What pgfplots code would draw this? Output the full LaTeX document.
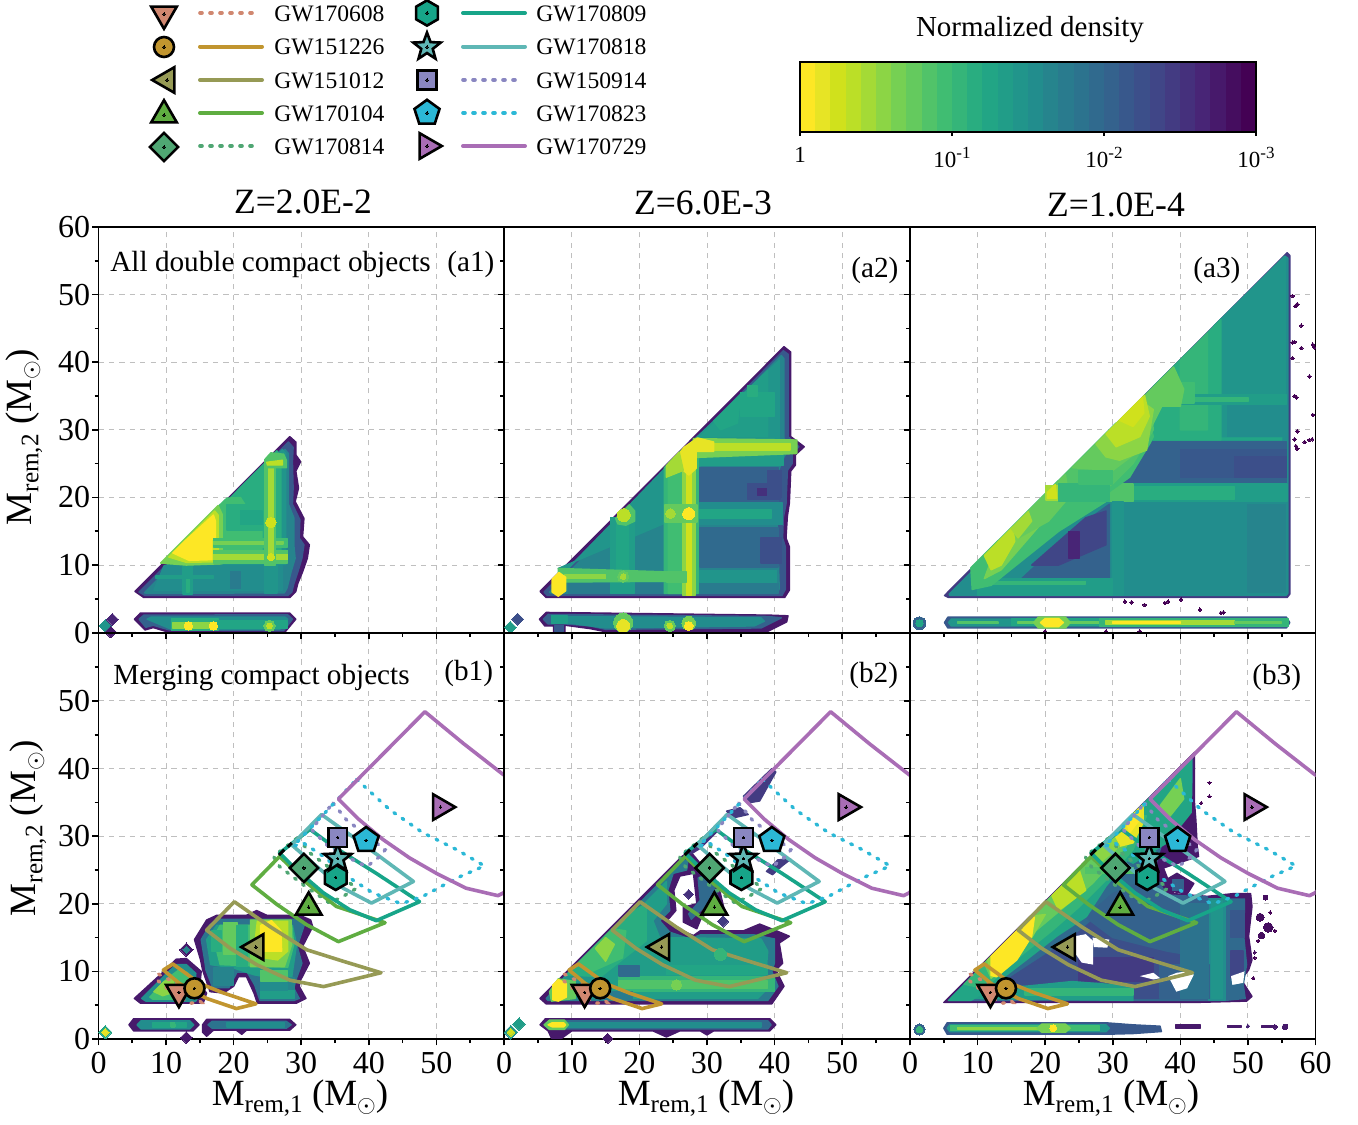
\documentclass[border=0pt]{standalone}
\usepackage{pgfplots}
\pgfplotsset{compat=1.18}
\usepackage{fontspec}
\setmainfont{Liberation Serif}
\usetikzlibrary{plotmarks}
\def\cl#1#2{\definecolor{d#1}{HTML}{#2}}
\cl{0}{FDE725}\cl{1}{E7E425}\cl{2}{D0E11C}\cl{3}{BBDF27}\cl{4}{A4DA36}\cl{5}{8CD545}
\cl{6}{76D053}\cl{7}{64CA5E}\cl{8}{51C369}\cl{9}{40BD72}\cl{10}{35B579}\cl{11}{29AD80}
\cl{12}{22A585}\cl{13}{219D88}\cl{14}{21958B}\cl{15}{228D8D}\cl{16}{26848D}\cl{17}{297B8E}
\cl{18}{2C738E}\cl{19}{306A8E}\cl{20}{34628D}\cl{21}{38588C}\cl{22}{3C4F8A}\cl{23}{404687}
\cl{24}{433B82}\cl{25}{45307C}\cl{26}{482576}\cl{27}{47196B}\cl{28}{450D5F}\cl{29}{440154}
\definecolor{gA}{HTML}{D08770}\definecolor{gB}{HTML}{C1952F}\definecolor{gC}{HTML}{969A55}
\definecolor{gD}{HTML}{5FAD41}\definecolor{gE}{HTML}{4FA673}\definecolor{gF}{HTML}{17A589}
\definecolor{gG}{HTML}{5FB7B5}\definecolor{gH}{HTML}{8A87C1}\definecolor{gI}{HTML}{2BB8D6}
\definecolor{gJ}{HTML}{A96DB5}
\pgfdeclareplotmark{hexa}{\pgfpathmoveto{\pgfqpoint{0pt}{\pgfplotmarksize}}
 \pgfpathlineto{\pgfqpointpolar{150}{\pgfplotmarksize}}\pgfpathlineto{\pgfqpointpolar{210}{\pgfplotmarksize}}
 \pgfpathlineto{\pgfqpointpolar{270}{\pgfplotmarksize}}\pgfpathlineto{\pgfqpointpolar{330}{\pgfplotmarksize}}
 \pgfpathlineto{\pgfqpointpolar{30}{\pgfplotmarksize}}\pgfpathclose\pgfusepathqfillstroke}
\pgfdeclareplotmark{stara}{\pgfpathmoveto{\pgfqpointpolar{90}{\pgfplotmarksize}}
 \pgfpathlineto{\pgfqpointpolar{126}{.42\pgfplotmarksize}}\pgfpathlineto{\pgfqpointpolar{162}{\pgfplotmarksize}}
 \pgfpathlineto{\pgfqpointpolar{198}{.42\pgfplotmarksize}}\pgfpathlineto{\pgfqpointpolar{234}{\pgfplotmarksize}}
 \pgfpathlineto{\pgfqpointpolar{270}{.42\pgfplotmarksize}}\pgfpathlineto{\pgfqpointpolar{306}{\pgfplotmarksize}}
 \pgfpathlineto{\pgfqpointpolar{342}{.42\pgfplotmarksize}}\pgfpathlineto{\pgfqpointpolar{18}{\pgfplotmarksize}}
 \pgfpathlineto{\pgfqpointpolar{54}{.42\pgfplotmarksize}}\pgfpathclose\pgfusepathqfillstroke}
\newcommand{\Pg}[2]{\addplot[fill=#1,draw=#1,line width=.7pt,line join=round,forget plot] coordinates {#2} --cycle;}
\newcommand{\Rc}[5]{\addplot[fill=#1,draw=#1,line width=.7pt,line join=round,forget plot] coordinates {(#2,#3)(#4,#3)(#4,#5)(#2,#5)} --cycle;}
\newcommand{\Sq}[5]{\addplot[fill=#1,draw=none,forget plot] coordinates {(#2,#3)(#4,#3)(#4,#5)(#2,#5)} --cycle;}
\newcommand{\Bl}[4]{\addplot[only marks,mark=*,mark size=#4pt,mark options={fill=#1,draw=#1,line width=0pt},forget plot] coordinates {(#2,#3)};}
\newcommand{\Dm}[4]{\addplot[only marks,mark=square*,mark size=#4pt,mark options={rotate=45,fill=#1,draw=#1,line width=0pt},forget plot] coordinates {(#2,#3)};}
\newcommand{\CS}[2]{\addplot[#1,line width=1.8pt,line join=round,forget plot] coordinates {#2} --cycle;}
\newcommand{\CD}[2]{\addplot[#1,line width=1.7pt,line cap=round,dash pattern=on 1pt off 4pt,forget plot] coordinates {#2} --cycle;}
\newcommand{\GM}[6]{\addplot[only marks,mark=#2,mark size=#3pt,mark options={fill=#1,draw=black,line width=1.3pt,line join=miter,#4},forget plot] coordinates {(#5,#6)};
 \addplot[only marks,mark=*,mark size=.6pt,mark options={fill=black,draw=black,line width=0pt},forget plot] coordinates {(#5,#6)};}
\newcommand{\contours}{%
\CD{gA}{(8.9,9.6)(11,8.5)(13,7.5)(15.2,5.4)(13.5,5.3)(11,6.8)(8.7,8.7)}
\CS{gB}{(11,11.1)(15,8.2)(18.5,6.8)(23.3,5.2)(20.4,4.5)(16,6)(12,8.2)(9.6,10.2)}
\CS{gC}{(20.1,20.3)(25.4,16.6)(30.8,13.2)(36.2,11.5)(41.8,9.8)(33.3,7.75)(28.3,8.7)(23.4,11)(19.5,13.4)(16,16.1)}
\CD{gE}{(29.5,29.8)(31.3,27.5)(38.2,22.3)(36.2,21.1)(34.2,20.1)(30.3,22.8)(26.8,25.5)(25.9,27)}
\CS{gD}{(26.8,27)(30.8,23.1)(35.2,19.6)(42.4,17.2)(35.5,14.4)(30.8,16.9)(26.4,19.9)(22.7,22.8)}
\CS{gF}{(31.3,31)(34.7,28.5)(41.1,24.5)(47.5,20.3)(41.1,17.5)(37.2,19.1)(33.3,21.6)(29.3,25)(26.8,27.5)}
\CS{gG}{(33,33.2)(38.2,29.5)(46.6,23.3)(40.4,20.1)(36.2,22.3)(32.3,25.5)(28.6,28.7)}
\CD{gH}{(34.7,34.9)(36.7,32.4)(42.4,28)(42,27.3)(39.7,25.5)(37,26.8)(34,28.5)(31.5,31)}
\CD{gI}{(38.2,38.4)(43.1,33.9)(48,30.5)(53,28)(57.1,25.6)(53,23.8)(48,21.1)(44.8,20)(40.6,21.6)(37.2,23.8)(33.3,27)(30.3,29)(28.8,28.5)}
\CS{gJ}{(35.5,35.5)(48.3,48.4)(54,43.7)(59.9,39.1)(72,33)(59.9,21.6)(59.1,21.2)(54.4,22.3)(50,24.5)(46,26.8)(42.1,29.5)(38.5,32.5)}
\addplot[black,line width=1.5pt,forget plot] coordinates {(26.7,27.2)(27.5,28)};
\addplot[black,line width=1.5pt,forget plot] coordinates {(28,28.4)(28.6,29)};
\GM{gA}{triangle*}{7.4}{rotate=180}{11.9}{6.9}
\GM{gB}{*}{5}{}{14.2}{7.5}
\GM{gC}{triangle*}{7.4}{rotate=90}{23.3}{13.6}
\GM{gD}{triangle*}{7.4}{}{31.1}{19.5}
\GM{gE}{square*}{5}{rotate=45}{30.4}{25.3}
\GM{gF}{hexa}{6.3}{}{35.1}{23.9}
\GM{gG}{stara}{7.2}{}{35.4}{26.7}
\GM{gH}{square*}{4.7}{}{35.4}{29.8}
\GM{gI}{pentagon*}{6.6}{}{39.6}{29.4}
\GM{gJ}{triangle*}{7.4}{rotate=-90}{50.6}{34.3}
}
\pgfplotsset{panel/.style={scale only axis,width=202.75pt,height=202.85pt,anchor=south west,
 xmin=0,xmax=60,ymin=0,ymax=60,xtick={0,10,...,60},ytick={0,10,...,60},
 minor x tick num=1,minor y tick num=1,tick align=outside,xtick pos=bottom,ytick pos=left,
 grid=major,major grid style={dash pattern=on 2.6pt off 2.6pt,black!25,line width=.45pt},
 axis line style={line width=.9pt},tick style={black,line width=.8pt},
 major tick length=3.2pt,minor tick length=2pt,
 xticklabels={},yticklabels={},
 tick label style={font=\fontsize{16}{16}\selectfont},
 /pgf/number format/assume math mode=true,
 xticklabel style={yshift=.2pt},yticklabel style={xshift=2.6pt}}}
\newcommand{\xl}{M\raisebox{-.4ex}{\fontsize{12.6}{12}\selectfont rem,1} (M\raisebox{-.4ex}{\fontsize{12.6}{12}\selectfont$\odot$})}
\newcommand{\yl}{M\raisebox{-.4ex}{\fontsize{12.6}{12}\selectfont rem,2} (M\raisebox{-.4ex}{\fontsize{12.6}{12}\selectfont$\odot$})}
\begin{document}
\begin{tikzpicture}
\useasboundingbox (0,0) rectangle (679pt,562pt);
% ---------- a1
\begin{axis}[panel,at={(49.25pt,245.65pt)},yticklabels={0,10,20,30,40,50,60}]
\Pg{d27}{(5.4,6.1)(28.3,29)(29.2,28.2)(29.2,26.3)(29.9,25.3)(29.2,23.9)(29.6,21.4)(29.1,19.4)(30.4,16.9)(30.2,14.2)(31.2,13)(30.9,11)(30.2,9)(29.5,7.3)(29.2,6.1)(28.3,5.2)(6.7,5.2)}
\Pg{d21}{(6,6)(28.1,28.2)(28.8,27.4)(28.7,25.3)(28.8,21.4)(28.7,19)(29.8,16.7)(29.7,14)(30.4,13)(30.1,11)(29.5,9)(28.9,7.2)(28.6,6)(28,5.5)(6.9,5.5)}
\Pg{d16}{(6.8,5.9)(27.6,27.1)(28.1,26.5)(28.1,21)(28.1,19)(28.9,17)(28.9,13)(29.1,11)(28.5,9)(27.9,6.6)(27.5,5.9)(7.2,5.8)}
\Pg{d15}{(8.2,6.3)(9.7,9.9)(27.2,9.9)(27.2,6.3)}
\Rc{d13}{12.5}{5.7}{13.9}{10}\Rc{d11}{13}{6}{13.4}{8}\Rc{d14}{24.6}{5.9}{26.4}{10}\Rc{d13}{8.5}{8}{17}{8.4}\Rc{d17}{19.5}{6.5}{21}{9}
\Pg{d14}{(10.2,10.1)(27.2,27.1)(27.7,26.5)(27.7,10.1)}
\Pg{d11}{(10,10.4)(26.4,26.9)(27,25.8)(27,10.4)}
\Pg{d9}{(17,10.3)(17,18)(19,19.9)(21,20)(24.2,15)(24.2,10.3)}
\Rc{d11}{19}{15.2}{24.3}{19}\Rc{d12}{21}{16}{24.2}{18}
\Pg{d6}{(9.2,10.3)(17.7,18.8)(18.3,17.5)(18.3,10.2)(13,10)}
\Pg{d3}{(10.4,11.2)(17.2,18)(17.7,17.4)(17.7,10.5)(13,10.4)}
\Pg{d0}{(11,11.8)(12.6,13.4)(17,17.4)(17.3,16.5)(17.3,14)(16.8,13.8)(16.8,10.8)(13.4,10.7)}
\Rc{d8}{17}{10.3}{28}{12.2}\Rc{d4}{17}{10.8}{28}{11.6}\Rc{d9}{17}{12.7}{28}{13.9}\Rc{d6}{17}{13.1}{27.3}{13.5}
\Rc{d8}{24.6}{10}{26.2}{25.5}\Rc{d4}{25.2}{11}{25.8}{25}
\Pg{d8}{(24.6,25.6)(25.5,26.6)(27.4,26.4)(27.8,25.5)(27.8,24.4)(24.8,24.4)}
\Pg{d3}{(24.9,25.2)(27.2,25.5)(27.2,24.8)(25,24.8)}
\Bl{d2}{25.5}{16.3}{2.6}\Bl{d2}{25.5}{11.2}{1.8}
% strip
\Pg{d27}{(5.3,2)(6.2,2.9)(28.3,2.9)(29.2,2)(27.6,.1)(10.3,.1)(8.1,.75)(6.9,.4)}
\Pg{d20}{(6,2)(6.7,2.6)(28,2.65)(28.7,2)(27.4,.3)(10.5,.4)(8.1,1.1)(7,.8)}
\Pg{d15}{(7.2,2)(7.8,2.3)(27.6,2.3)(28,2)(26.8,.5)(10.8,.5)}
\Rc{d11}{10.8}{.3}{17.7}{2.1}\Rc{d5}{11}{.6}{17.4}{1.5}\Rc{d12}{17.7}{.7}{28}{1.8}\Bl{d0}{13.3}{1}{2.1}\Bl{d0}{17}{1}{2.1}\Bl{d7}{25.3}{1}{2.8}\Bl{d3}{25.3}{1}{1.4}
\Dm{d14}{1}{1}{2.2}\Dm{d26}{2.05}{1.95}{2.1}\Dm{d27}{1.8}{.1}{2}
\end{axis}
% ---------- a2
\begin{axis}[panel,at={(252.1pt,245.65pt)}]
\Pg{d27}{(5.3,6.1)(41.4,42.3)(42.4,41.5)(42.4,29)(44.4,27.5)(43.1,26.3)(43.1,24.8)(42.4,23.9)(42.2,19.2)(41.9,17.2)(41.7,14)(42.2,12.7)(42.2,6.3)(41.5,5.2)(6.2,5.2)}
\Pg{d21}{(5.9,6)(41.3,41.7)(42,41.2)(42,29)(43.6,27.5)(42.6,26.5)(42.6,25)(41.9,24)(41.7,19)(41.3,17)(41.2,14)(41.6,12.7)(41.6,6.4)(41.1,5.5)(6.4,5.5)}
\Pg{d16}{(6.7,6)(41,41)(41.4,40.5)(41.4,28.7)(42.4,27.5)(41.4,26)(40.6,24)(40.4,16)(40.7,6.5)(40.4,5.8)(7,5.8)}
\Pg{d14}{(9,9)(26,26.6)(40.7,40.3)(40.7,28)(29,25)(28,18)(8,9.5)}
\Pg{d13}{(28.5,28.5)(36,35.9)(39,38.8)(39,29)(29,29)}
\Pg{d12}{(31,31.3)(35,35.3)(34.5,31)(32,30)}\Rc{d12}{35}{32}{40}{35.5}\Rc{d11}{36}{36.5}{37.5}{35}
\Rc{d13}{29}{24.7}{41.3}{27}
\Rc{d20}{29}{19.3}{40.5}{24.4}\Rc{d22}{36}{19.8}{40.8}{22}\Rc{d25}{37.5}{20.3}{39}{21.3}\Rc{d22}{39}{20}{41}{24}\Rc{d19}{29}{9.7}{40.5}{15.6}\Rc{d22}{38}{10.3}{41}{14}\Rc{d17}{29}{5.8}{40.5}{7.3}
\Rc{d15}{29}{16}{41.2}{19.2}\Rc{d12}{29}{16.9}{39.5}{18.2}\Rc{d14}{29}{7.4}{40.3}{9.2}
\Rc{d17}{9.5}{5.8}{24}{7.3}
\Rc{d13}{15.7}{5.8}{19.3}{17}\Rc{d12}{16.7}{9}{18.3}{16}
\Pg{d10}{(23.7,5.8)(23.7,24.4)(26.2,26.9)(28.7,26)(28.7,5.8)}
\Pg{d9}{(24.3,5.8)(24.3,25)(26.5,27.2)(27.8,26)(27.8,5.8)}
\Rc{d5}{26.4}{5.6}{28.3}{25}\Rc{d2}{27}{5.5}{27.7}{25}
\Pg{d6}{(28,25.9)(28,28.7)(43.3,28.5)(43.3,26.5)}
\Rc{d3}{28}{27}{42.3}{28}
\Pg{d1}{(25.7,26.2)(26.6,27.4)(28.6,28.8)(31,28.2)(31,26.8)(28.4,26.8)(28.4,24.3)(27.3,23.3)(26.2,24.3)}
\Pg{d4}{(24,24.7)(25.9,26.7)(26.5,24)(24,23)}
\Rc{d7}{23.8}{16.4}{28.5}{18.9}\Bl{d4}{24.6}{17.6}{2.4}\Bl{d0}{27.3}{17.6}{3}
\Pg{d8}{(8,8.8)(8,9.5)(24,9)(24,7.6)(9,7.5)}\Rc{d5}{9}{8}{15}{8.6}\Rc{d8}{24}{7.5}{27}{9}
\Pg{d8}{(16.5,16.9)(18.5,18.9)(19.3,18)(19.3,16.5)(18,15.9)(16.8,16.1)}
\Bl{d3}{17.7}{17.4}{3.2}\Bl{d7}{17.6}{8.3}{2.8}\Bl{d4}{17.6}{8.3}{1.4}
\Pg{d0}{(7.1,7.9)(8.1,8.9)(9.1,8.2)(9.1,6.2)(8,5.4)(7.1,6)}
% strip
\Pg{d27}{(5.2,2)(6.2,3)(39.3,2.6)(42,2.5)(41.8,1.6)(38.8,.1)(15.2,.1)(12.7,.6)(9,1.1)(9,.1)(7.3,.1)(7.3,1)(6,1)}
\Pg{d20}{(5.8,2)(6.5,2.7)(39,2.4)(41,2.2)(38,.7)(15,.5)(12.7,1)(9,1.3)(6.5,1.3)}
\Pg{d15}{(7,2)(7.8,2.4)(38,2.2)(38.5,1.7)(37,1)(15,.7)(9,1.5)}
\Rc{d21}{7.5}{.2}{8.8}{1.1}\Rc{d13}{7}{1.4}{9.3}{2.5}
\Bl{d7}{17.6}{1.5}{4.8}\Bl{d1}{17.6}{1}{3.2}
\Bl{d7}{24.5}{1}{2.8}\Bl{d3}{24.5}{1}{1.4}\Bl{d6}{27.3}{1.4}{3.4}\Bl{d0}{27.3}{1}{2.2}
\Dm{d13}{.9}{.8}{2.1}\Dm{d22}{2}{2}{2.1}
\end{axis}
% ---------- a3
\begin{axis}[panel,at={(455pt,245.65pt)}]
\Pg{d24}{(5.1,5.5)(55.8,56.2)(56.2,55.8)(56.2,5.7)(55.8,5.2)(5.7,5.2)}
\Pg{d15}{(5.8,5.7)(55.6,55.6)(55.9,55.4)(55.9,5.8)(55.6,5.5)(5.9,5.5)}
\Rc{d16}{50}{6}{55.6}{19}
\Pg{d12}{(29,29.4)(55.4,55.6)(55.4,47)(55,28.5)(29,28.5)}
\Pg{d14}{(45,45.4)(55.5,55.7)(55.5,29)(46,29)}\Rc{d15}{47}{29}{55.5}{34}
\Pg{d11}{(36,36.4)(46,46.3)(46,28.5)(36,28.5)}
\Pg{d10}{(40,40.3)(44,44.3)(44,30)(40,30)}
\Rc{d13}{35}{33.8}{55.7}{35.2}\Rc{d10}{35}{34.2}{50}{34.8}
\Rc{d20}{30}{22}{55.7}{28.3}\Rc{d21}{40}{23}{55.7}{27}\Rc{d22}{48}{23}{55.7}{26}
\Rc{d13}{29}{19.4}{55.8}{22}\Rc{d11}{33}{19.8}{48}{21.6}\Rc{d8}{29.5}{19.4}{33}{22}
\Rc{d14}{30}{5.6}{31.5}{19.4}
\Pg{d20}{(16,7.5)(24,15)(29.5,19)(29.5,8)(22,8)}
\Pg{d23}{(18,10)(26,17)(29,18)(29,13)(22,10)}\Rc{d26}{23.5}{11}{25}{15}
\Rc{d13}{10}{5.6}{30}{8}\Rc{d10}{11}{7.2}{26}{7.6}
\Pg{d9}{(9.2,6.4)(9,9.6)(30.5,31)(35.5,31)(36,29)(35.5,28)(32.5,23)(29,20.5)(29,19.4)(22,15)(12,7)}
\Pg{d8}{(22,22.4)(33,33.4)(35.5,35.2)(36,30)(33,25)(30,22)(27,20.2)}
\Pg{d7}{(24,24.4)(36,36.3)(38,35)(36,31)(34,27)(30,24)}
\Rc{d9}{38}{34}{42}{37}\Pg{d7}{(36,36.3)(39,39.3)(40.5,36)(40,33.5)(37,33.5)}
\Pg{d5}{(27.5,27.9)(34,34.4)(36,33)(35,27)(31,25.5)(29,26)}
\Pg{d3}{(29,29.4)(34.7,35.1)(35.4,32)(34,29)(30.5,27.5)}
\Pg{d2}{(31,31.4)(34.4,34.8)(34.6,32.5)(33,30.5)}
\Pg{d6}{(13,13.4)(20.2,20.6)(21,18)(18,14.5)(13.5,9.3)(11,8)}
\Pg{d7}{(18,18.4)(23,23.4)(23.5,20)(20.5,16.5)(16,14)}
\Pg{d3}{(11,11.4)(15.2,15.6)(15.5,13.5)(13.5,10)(12,9.3)}
\Pg{d4}{(15,15.4)(17.5,17.9)(18,16.5)(16,14)}
\Rc{d4}{20.1}{19.6}{21.9}{21.8}\Pg{d2}{(20.3,19.9)(20.3,20.7)(21.5,21.9)(21.7,19.9)}
\Rc{d10}{22}{19.5}{29.5}{22}\Rc{d9}{25}{22}{30}{24}
% strip
\Pg{d21}{(5.1,1.5)(5.6,2.3)(55.7,2.3)(56.2,1.5)(55.7,.7)(5.6,.7)}
\Pg{d14}{(5.7,1.5)(6.1,2)(55.5,2)(55.9,1.5)(55.5,1)(6.1,1)}
\Rc{d8}{7}{1.4}{13}{1.6}\Rc{d12}{15}{1.1}{30}{2}\Rc{d7}{16}{1.4}{30}{1.6}
\Rc{d10}{28}{1}{56}{2}\Rc{d4}{29}{1.2}{48}{1.8}\Rc{d0}{30}{1.4}{40}{1.6}\Rc{d7}{48}{1.4}{55}{1.6}
\Pg{d6}{(18.3,1.5)(19,2.3)(23,2.3)(23.7,1.5)(23,.7)(19,.7)}\Pg{d0}{(19.3,1.5)(20,2.1)(22,2.1)(22.7,1.5)(22,.9)(20,.9)}
\Bl{d20}{1.4}{1.4}{3.2}\Bl{d12}{1.4}{1.4}{1.8}
\addplot[only marks,mark=*,mark size=.9pt,mark options={fill=d29,draw=d29,line width=0pt},forget plot] coordinates {(56.6,49.8)(57,48.3)(57.3,48.6)(56.6,42.9)(56.9,43)(57.9,42.1)(59.6,42.6)(59.8,42.2)(56.6,40.6)(57.9,45.4)(59.1,37.9)(56.9,35)(57.2,34.8)(59.6,32.2)(57.3,29.8)(57.1,27.6)(57.3,27.2)(59.1,28.5)(59.5,28.6)(58.4,28.2)(56.9,28.6)(31.8,4.6)(32.8,4.5)(34.7,4.1)(37.7,4.4)(38.2,4.6)(40.1,4.9)(42.9,3.4)(46,2.9)(46.4,3)(20,.2)(29,.2)(34,.2)};
\end{axis}
% ---------- b1
\begin{axis}[panel,at={(49.25pt,42.5pt)},yticklabels={0,10,20,30,40,50,},xticklabels={0,10,20,30,40,50,}]
\Pg{d27}{(5.3,6)(9.9,10.2)(11.5,11.8)(13,11.9)(15.2,10)(15,8)(16,6.8)(15.5,5.3)(6.2,5.3)}
\Pg{d15}{(6.4,6)(10,9.6)(11.5,11)(13,11)(14.4,9.7)(14.3,7.5)(14.9,6.6)(14.4,5.6)(7,5.6)}
\Pg{d9}{(7.6,6.2)(10,8.8)(12,10.3)(13.2,9.8)(13.6,7.5)(12,5.9)(8,5.9)}
\Pg{d5}{(8.2,7)(9.7,8.5)(11,9)(11.4,7)(9.5,6.4)}
\Dm{d27}{13}{13.2}{2.4}\Dm{d16}{13}{13.2}{1.2}\Dm{d27}{13}{.2}{2.1}
\Pg{d27}{(14.2,14.7)(16,17.6)(17.5,18.3)(21.9,18.3)(23.4,19)(24.9,18.3)(29.8,18.3)(31.4,17.6)(31.7,16.6)(30.2,13.7)(31.2,11.2)(29.9,8.7)(29.7,7.8)(30.7,6)(29.3,5.3)(23.5,5.3)(23,6.8)(21.9,9.2)(20.7,9.2)(20,7.8)(18.5,6.8)(16.5,7)(15.4,10.2)(15.1,11.7)}
\Pg{d18}{(15.2,14.7)(16.5,16.9)(17.8,17.7)(29.3,17.7)(30.5,17)(29.4,13.7)(30.1,11.2)(29.2,8.7)(28.9,7.5)(29.7,6)(28.9,5.7)(23.9,5.7)(23.1,8)(22,9.9)(20.5,9.9)(19.3,7.6)(16.9,7.6)(15.9,10.2)(15.7,11.7)}
\Pg{d13}{(16,14.7)(17.5,16.8)(28.7,16.8)(29.3,14)(28.5,8.5)(23,9.5)(20,10.5)(16.6,11)}
\Rc{d16}{17}{8}{20}{10.5}\Rc{d16}{24}{6}{29}{9}\Rc{d13}{24}{6}{29}{7.1}\Rc{d15}{24}{7.2}{28}{8.3}
\Pg{d9}{(17,15)(18,16.8)(28.6,16.8)(28.9,14)(28,10.6)(18,11)}
\Rc{d7}{18.5}{12.5}{20.5}{17.2}\Rc{d11}{20.5}{10.7}{22}{16.8}\Rc{d11}{16.7}{13}{18.2}{16}
\Pg{d6}{(22.5,10.7)(22.5,17.6)(28.5,17.6)(28.6,14)(27.5,10.7)}
\Pg{d3}{(23,13)(23.5,17.4)(28,17.4)(28,13)(26.5,11.7)(24.5,12)}
\Pg{d0}{(23.9,13)(24,16.8)(25.6,17.5)(27,16)(27.1,13)}
\Rc{d8}{24}{8.6}{28}{10.1}
% strips
\Pg{d27}{(4.5,2.1)(5.2,3)(14,3)(14.9,2.1)(14,1.2)(5.2,1.2)}
\Pg{d15}{(5.7,2.1)(6.3,2.7)(13.5,2.7)(14.1,2.1)(13.5,1.5)(6.3,1.5)}
\Rc{d12}{8}{1.8}{13}{2.4}\Bl{d10}{11}{2.1}{1.4}
\Pg{d27}{(15.4,2.1)(16,2.9)(28.3,2.9)(29.2,2.1)(28.3,1.3)(21.9,1.3)(21.2,.7)(20.4,1.3)(17,1.3)(16,.4)(15.4,1)}
\Pg{d18}{(16.2,2.1)(16.8,2.6)(27.8,2.6)(28.5,2.1)(27.8,1.6)(16.8,1.6)}
\Rc{d15}{19}{1.8}{27.5}{2.4}
\Dm{d12}{1}{1}{2.3}\Dm{d1}{1}{1}{1.4}
\contours
\end{axis}
% ---------- b2
\begin{axis}[panel,at={(252.1pt,42.5pt)},xticklabels={0,10,20,30,40,50,}]
\Pg{d27}{(5.3,6)(26.3,27)(27.5,27.8)(29,26)(28.5,24.6)(26,24.1)(25.1,22)(25.4,19)(24.1,17.5)(25.5,16.4)(28,15.3)(29,16)(35.4,16)(37.8,17)(40.3,16)(42.2,15.2)(40.7,14.2)(41.2,11.2)(40.2,10.2)(41.4,7.8)(39.6,5.2)(6.2,5.2)}
\Pg{d17}{(6.2,6)(26,26.2)(27.2,26.5)(27,25)(25,24.5)(24.2,22)(24.5,19)(23,17.5)(24.5,15.8)(27.5,14.8)(29,15.4)(37,15.4)(40,14.8)(40,11.3)(39.6,10)(40.5,7.8)(39,5.7)(6.5,5.7)}
\Pg{d13}{(7,6)(24,23.3)(24,20)(22,17.5)(23,15)(38,14.8)(39,13)(38.5,7)(37.5,6)}
\Pg{d11}{(9,9.3)(18,18.3)(21,20)(21,14.5)(14,9)}
\Pg{d9}{(11,11.3)(16,16.3)(18,16)(17.5,12)(13,10)}
\Pg{d5}{(13.5,13.4)(15,15)(16.3,14)(15,11.5)}
\Rc{d10}{17}{7}{40}{9.2}\Rc{d8}{17}{7.5}{39}{8.6}\Bl{d6}{25.5}{8}{2.6}
\Rc{d12}{24}{9.5}{39}{11}\Rc{d13}{24}{11}{38}{14}\Bl{d10}{32}{12.5}{3}\Rc{d17}{14}{5.7}{19}{7}\Rc{d19}{17}{9.3}{20}{10.8}
\Pg{d14}{(7,6)(8,8)(9,9.3)(14,9)(14,6)}
\Pg{d7}{(6.7,7)(8,8.9)(10.5,8.5)(10.5,6)(7,5.6)}
\Pg{d0}{(7.2,5.8)(7.2,8)(8,8.8)(9.2,8.2)(9.2,6.2)(8,5.6)}
\Pg{d27}{(28,24.5)(30.5,25.5)(32,21.5)(32.6,19)(30,18.5)(29.2,18)(28.5,16.3)(26.5,17.3)(26.5,19.5)(28.5,20)}
\Pg{d19}{(28.7,23.8)(30.2,24.6)(31.5,21.3)(31.8,19.6)(29.6,19.5)(28.5,18.5)(27.7,17.7)(27.3,18.5)(29,20.5)}
\Dm{d25}{27.3}{21.4}{1.7}\Dm{d24}{32.4}{17.4}{2}
\Pg{d25}{(26.8,27.5)(29,29.3)(31,31.3)(31.6,30.8)(29,28.2)(27.7,27.4)}
\Pg{d24}{(32.9,33.7)(34.9,34.2)(36.1,33.2)(33.9,32.7)}
\Pg{d24}{(35.4,35.9)(39.6,40)(40.2,39.5)(37.8,35.2)(36,34.9)}
\Pg{d24}{(38.8,24.8)(40.5,26.5)(42.4,26.6)(41,25.5)(39.7,24.3)}
% strip
\Pg{d27}{(5.3,2.1)(6.1,3)(39.3,3)(40.2,2.1)(39.3,1.2)(31,1.2)(30,.6)(29,1.2)(26,1.2)(24,.3)(22,1.2)(10,1.2)(8.5,.1)(7,.1)(6.5,1.2)}
\Pg{d19}{(6,2.1)(6.7,2.7)(39,2.7)(39.5,2.1)(39,1.5)(7,1.5)}
\Rc{d15}{8}{1.8}{38}{2.4}\Pg{d7}{(5.9,2.1)(6.7,2.8)(8.9,2.8)(9.5,2.1)(8.9,1.4)(6.7,1.4)}
\Pg{d0}{(6.5,2.1)(7.1,2.4)(8.8,2.4)(9.1,2.1)(8.8,1.8)(7.1,1.8)}
\Dm{d27}{15.3}{.1}{1.8}
\Dm{d14}{1}{1}{2.4}\Dm{d2}{1}{1}{1.4}\Dm{d13}{2.2}{2.2}{2.2}
\contours
\end{axis}
% ---------- b3
\begin{axis}[panel,at={(455pt,42.5pt)},xticklabels={0,10,20,30,40,50,60}]
\Pg{d27}{(5,5.4)(42.1,42.4)(42.1,34.9)(42.3,32.4)(42.5,28.5)(42.7,27)(37.5,25.3)(39,21.5)(44,21.1)(47.8,21.5)(50.4,21.5)(50.6,19.6)(50.1,15.2)(50.6,11.7)(50.1,10.2)(49,8.8)(50.6,6.3)(49.8,5.6)(41.9,5.4)}
\Pg{d19}{(5.7,5.7)(41.8,41.8)(41.7,36)(40.3,33)(38,31)(37,28)(36,24.5)(38,21.3)(44,20.7)(49.5,20.7)(49.4,15)(49.8,11)(49.3,8)(49.6,6)(46.5,5.7)}
\Pg{d12}{(28,28.4)(41.6,41.7)(41.6,33.5)(38,29)(33,26)}
\Pg{d6}{(37,34.5)(40,38.5)(40.5,35.5)(38.5,33)}
\Rc{d15}{44.2}{5.7}{46.6}{20.7}\Rc{d14}{44.7}{6}{46.2}{20.5}\Rc{d23}{47.5}{9}{49.3}{13}\Rc{d21}{47.5}{15}{49.5}{19}
\Pg{d22}{(14,8.5)(24,15)(30,20)(37,21)(44,21)(44,6)(30,6)(20,7.5)}
\Pg{d20}{(26,18)(30,21.5)(36,24)(38,21.3)(44,21)(44,12)(38,13)(30,15)}
\Rc{d20}{37}{6}{44.3}{11}\Rc{d18}{40}{6}{44.2}{20}\Rc{d24}{25}{8.5}{36}{12}
\Pg{d13}{(9,6)(9,7)(24,8.5)(33,7.8)(33,5.7)}\Rc{d10}{17}{6.5}{33}{7.5}
\Pg{d12}{(5.7,5.7)(30,30.1)(37,34)(36.5,31.5)(33,27.5)(29,22.6)(26.1,18.1)(21.7,15.2)(17.2,11.7)(10.8,6.8)(9,5.7)}
\Pg{d10}{(8,8.1)(26,26.2)(33,33.2)(35,33)(33,28)(29,23.5)(25,19.5)(21,16)(16,12)(11,7.5)}
\Pg{d7}{(11,11.2)(32,32.2)(34,33)(32,28.5)(27,23)(21,18)(15,13)(12,9)}
\Pg{d5}{(11.5,11.7)(18,18.2)(20,18.4)(18,15)(14,10.5)(12,9)}
\Pg{d0}{(12,12.2)(17.2,17.4)(18.4,18)(18,15.2)(15.8,11.7)(12.8,9.2)(12,9.4)}
\Pg{d3}{(21,21.2)(25,25.1)(26,22)(22,19)}
\Pg{d1}{(30,30.2)(34.5,34.7)(34.5,32)(33,29)(31,28.5)}
\Pg{d0}{(32,32.3)(34,34.2)(34,32.5)(32.5,30.5)}
\Pg{d5}{(27,27.2)(30,30.2)(31,28.5)(28,26)}
\Rc{d8}{26}{24.5}{33}{25.4}
% holes
\addplot[fill=white,draw=none,forget plot] coordinates {(24.4,15.2)(26,15.5)(27.1,14.5)(27.1,11)(25.4,11.3)(24.2,13)} --cycle;
\addplot[fill=white,draw=none,forget plot] coordinates {(27,15)(29.5,14.7)(29.2,13.5)(27.2,13.6)} --cycle;
\addplot[fill=white,draw=none,forget plot] coordinates {(39.4,7)(41,7.5)(42,9.5)(41,10)(39.5,9.8)(38.2,9.3)} --cycle;
\addplot[fill=white,draw=none,forget plot] coordinates {(34,9.3)(36,9.8)(37,9)(36,8.8)} --cycle;
\addplot[fill=white,draw=none,forget plot] coordinates {(47.5,9.3)(49.5,10)(49.3,8.3)(47.7,8)} --cycle;
\Pg{d27}{(38,22)(41,21.4)(42,23)(39.5,24.5)(37.8,23.5)}
\Rc{d20}{38.8}{22}{40.5}{23.5}
\Bl{d28}{51.8}{18}{2}\Bl{d28}{53}{16.5}{2.4}\Bl{d28}{52}{15.3}{1.6}\Bl{d28}{52.6}{20.9}{1.2}\Bl{white}{52}{17}{1}\Bl{d28}{51}{12.8}{.8}
\addplot[only marks,mark=*,mark size=.8pt,mark options={fill=d29,draw=d29,line width=0pt},forget plot] coordinates {(44.3,37.9)(44.3,35.9)(43.1,34.9)(51,12)(51.5,14.5)(54,16)(53.3,18.7)(50.8,9)};
% strip
\Pg{d21}{(5,1.6)(5.5,2.4)(29,2.4)(33,2.1)(37,1.9)(37.2,1.1)(33,.8)(29,.7)(5.5,.7)}
\Pg{d14}{(5.5,1.6)(5.9,2.1)(29,2.1)(29.5,1.6)(29,1.1)(5.9,1.1)}
\Rc{d9}{6}{1.3}{28}{1.9}\Rc{d5}{7}{1.5}{23}{1.7}\Pg{d6}{(18.8,1.6)(19.5,2.2)(23,2.2)(23.7,1.6)(23,1)(19.5,1)}\Bl{d0}{21.2}{1.6}{1.7}
\Rc{d27}{39.3}{1.6}{43}{2.1}\Rc{d27}{47}{1.7}{49}{2}\Bl{d26}{50}{1.9}{.9}\Rc{d27}{52}{1.7}{54}{1.9}\Bl{d27}{54}{1.8}{1.1}\Bl{d27}{55.5}{1.8}{1.4}
\Bl{d20}{1.4}{1.4}{2.8}\Bl{d10}{1.4}{1.4}{1.6}
\contours
\end{axis}
% ---------- colour bar
\begin{axis}[scale only axis,width=228pt,height=34.75pt,anchor=south west,at={(400pt,496pt)},
 xmin=0,xmax=30,ymin=0,ymax=1,xtick={0,10,20,30},xticklabels={1,10\raisebox{.42em}{\fontsize{8.5}{8.5}\selectfont -1},10\raisebox{.42em}{\fontsize{8.5}{8.5}\selectfont -2},10\raisebox{.42em}{\fontsize{8.5}{8.5}\selectfont -3}},ytick=\empty,
 tick align=outside,xtick pos=bottom,axis line style={line width=1pt},tick style={black,line width=.6pt},major tick length=2pt,
 tick label style={font=\fontsize{11.5}{11.5}\selectfont},xticklabel style={yshift=-2pt},axis on top]
\Sq{d0}{0}{0}{1}{1}\Sq{d1}{1}{0}{2}{1}\Sq{d2}{2}{0}{3}{1}\Sq{d3}{3}{0}{4}{1}\Sq{d4}{4}{0}{5}{1}\Sq{d5}{5}{0}{6}{1}
\Sq{d6}{6}{0}{7}{1}\Sq{d7}{7}{0}{8}{1}\Sq{d8}{8}{0}{9}{1}\Sq{d9}{9}{0}{10}{1}\Sq{d10}{10}{0}{11}{1}\Sq{d11}{11}{0}{12}{1}
\Sq{d12}{12}{0}{13}{1}\Sq{d13}{13}{0}{14}{1}\Sq{d14}{14}{0}{15}{1}\Sq{d15}{15}{0}{16}{1}\Sq{d16}{16}{0}{17}{1}\Sq{d17}{17}{0}{18}{1}
\Sq{d18}{18}{0}{19}{1}\Sq{d19}{19}{0}{20}{1}\Sq{d20}{20}{0}{21}{1}\Sq{d21}{21}{0}{22}{1}\Sq{d22}{22}{0}{23}{1}\Sq{d23}{23}{0}{24}{1}
\Sq{d24}{24}{0}{25}{1}\Sq{d25}{25}{0}{26}{1}\Sq{d26}{26}{0}{27}{1}\Sq{d27}{27}{0}{28}{1}\Sq{d28}{28}{0}{29}{1}\Sq{d29}{29}{0}{30}{1}
\end{axis}
% ---------- overlay: legend and all text (pixel coordinates)
\begin{axis}[scale only axis,width=679pt,height=562pt,anchor=south west,at={(0pt,0pt)},hide axis,
 xmin=0,xmax=1358,ymin=0,ymax=1124,y dir=reverse,clip=false]
\GM{gA}{triangle*}{7.4}{rotate=180}{164}{14}
\GM{gB}{*}{5}{}{164}{47}
\GM{gC}{triangle*}{7.4}{rotate=90}{167}{80}
\GM{gD}{triangle*}{7.4}{}{164}{115}
\GM{gE}{square*}{5}{rotate=45}{164}{147}
\GM{gF}{hexa}{6.3}{}{427}{13}
\GM{gG}{stara}{7.2}{}{427}{47}
\GM{gH}{square*}{4.7}{}{427}{80}
\GM{gI}{pentagon*}{6.6}{}{427}{113}
\GM{gJ}{triangle*}{7.4}{rotate=-90}{427}{146}
\addplot[gA,line width=1.8pt,line cap=round,dash pattern=on 1pt off 4pt,forget plot] coordinates {(200,13)(259,13)};
\addplot[gB,line width=2pt,line cap=round,forget plot] coordinates {(200,46.5)(262,46.5)};
\addplot[gC,line width=2pt,line cap=round,forget plot] coordinates {(200,80)(262,80)};
\addplot[gD,line width=2pt,line cap=round,forget plot] coordinates {(200,113)(262,113)};
\addplot[gE,line width=1.8pt,line cap=round,dash pattern=on 1pt off 4pt,forget plot] coordinates {(200,146)(259,146)};
\addplot[gF,line width=2pt,line cap=round,forget plot] coordinates {(463,13)(525,13)};
\addplot[gG,line width=2pt,line cap=round,forget plot] coordinates {(463,46.5)(525,46.5)};
\addplot[gH,line width=1.8pt,line cap=round,dash pattern=on 1pt off 4pt,forget plot] coordinates {(463,80)(522,80)};
\addplot[gI,line width=1.8pt,line cap=round,dash pattern=on 1pt off 4pt,forget plot] coordinates {(463,113)(522,113)};
\addplot[gJ,line width=2pt,line cap=round,forget plot] coordinates {(463,146)(525,146)};
\begin{scope}[every node/.style={font=\fontsize{11.8}{12}\selectfont,anchor=base west,inner sep=0pt}]
\node at (axis cs:274,21){GW170608};\node at (axis cs:274,54.5){GW151226};\node at (axis cs:274,88){GW151012};\node at (axis cs:274,121){GW170104};\node at (axis cs:274,154){GW170814};
\node at (axis cs:536,21){GW170809};\node at (axis cs:536,54.5){GW170818};\node at (axis cs:536,88){GW150914};\node at (axis cs:536,121){GW170823};\node at (axis cs:536,154){GW170729};
\end{scope}
\node[font=\fontsize{14.5}{15}\selectfont,inner sep=0pt] at (axis cs:1030,30){Normalized density};
\begin{scope}[every node/.style={font=\fontsize{17.8}{18}\selectfont,inner sep=0pt}]
\node at (axis cs:303,202){Z=2.0E-2};\node at (axis cs:703,203){Z=6.0E-3};\node at (axis cs:1116,205){Z=1.0E-4};
\node at (axis cs:300,1098){\fontsize{18.5}{18}\selectfont\xl};\node at (axis cs:706,1098){\fontsize{18.5}{18}\selectfont\xl};\node at (axis cs:1111,1098){\fontsize{18.5}{18}\selectfont\xl};
\node[rotate=90] at (axis cs:24,437){\fontsize{18.5}{18}\selectfont\yl};\node[rotate=90] at (axis cs:28,828){\fontsize{18.5}{18}\selectfont\yl};
\end{scope}
\begin{scope}[every node/.style={font=\fontsize{14.6}{15}\selectfont,inner sep=0pt,anchor=base west}]
\node at (axis cs:110,271){All double compact objects};\node at (axis cs:447,271){(a1)};
\node at (axis cs:851,277){(a2)};\node at (axis cs:1193,277){(a3)};
\node at (axis cs:113,684){Merging compact objects};\node at (axis cs:444,680){(b1)};
\node at (axis cs:849,682){(b2)};\node at (axis cs:1252,684){(b3)};
\end{scope}
\end{axis}
\end{tikzpicture}
\end{document}
